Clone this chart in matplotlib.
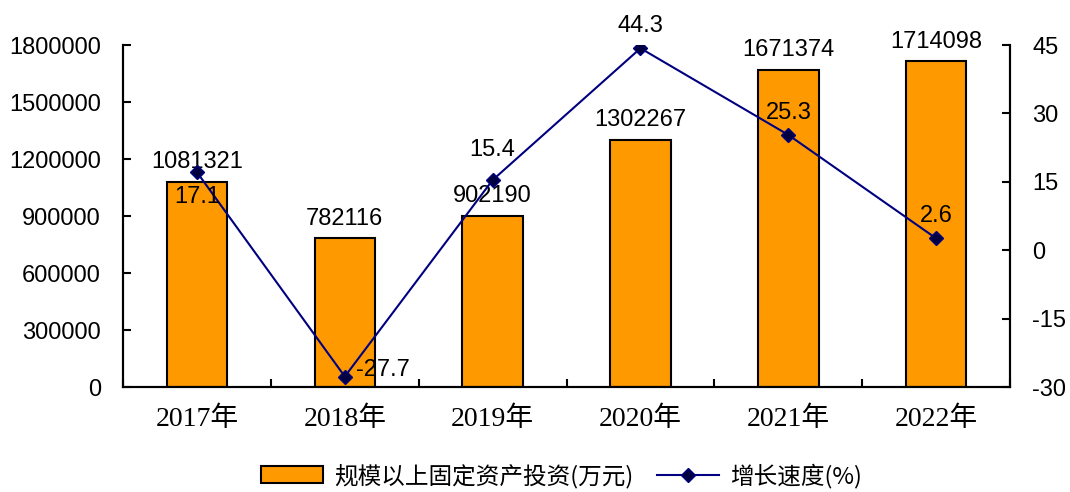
import matplotlib
matplotlib.use('Agg')
import matplotlib.pyplot as plt
import numpy as np

years = ['2017年', '2018年', '2019年', '2020年', '2021年', '2022年']
invest = [1081321, 782116, 902190, 1302267, 1671374, 1714098]
growth = [17.1, -27.7, 15.4, 44.3, 25.3, 2.6]
left_ticks = [0, 300000, 600000, 900000, 1200000, 1500000, 1800000]
right_ticks = [-30, -15, 0, 15, 30, 45]

num_font = ['Liberation Sans', 'Noto Sans CJK SC']
cat_font = ['Liberation Serif', 'Noto Sans CJK SC']

fig = plt.figure(figsize=(10.7, 4.92), dpi=100)
ax = fig.add_axes([0.115, 0.2134, 0.829, 0.695])
ax2 = ax.twinx()

x = np.arange(len(years))
bars = ax.bar(x, invest, width=0.41, color='#FF9900', edgecolor='black', linewidth=1.5,
              label='规模以上固定资产投资(万元)', zorder=2)
line, = ax2.plot(x, growth, color='#000080', linewidth=1.5, marker='D', markersize=7.5,
                 markerfacecolor='#000040', markeredgecolor='#000080',
                 label='增长速度(%)', zorder=3)

ax.set_xlim(-0.5, len(years) - 0.5)
ax.set_ylim(0, 1800000)
ax.set_yticks(left_ticks)
ax.set_yticklabels([str(t) for t in left_ticks], family=num_font, fontsize=17)
ax2.set_ylim(-30, 45)
ax2.set_yticks(right_ticks)
ax2.set_yticklabels([str(t) for t in right_ticks], family=num_font, fontsize=17)

# category boundary ticks on x axis
ax.set_xticks(np.arange(-0.5, len(years), 1.0), minor=False)
ax.set_xticklabels([])
ax.set_xticks(x, minor=True)
ax.set_xticklabels(years, minor=True, family=cat_font, fontsize=20)
ax.tick_params(axis='x', which='minor', length=0, pad=14)
ax.tick_params(axis='x', which='major', direction='in', length=6, width=1.5)

ax.tick_params(axis='y', direction='in', length=6, width=1.5, pad=16)
ax2.tick_params(axis='y', direction='in', length=6, width=1.5, pad=16)

for a in (ax, ax2):
    a.spines['top'].set_visible(False)
    for s in ('left', 'right', 'bottom'):
        a.spines[s].set_linewidth(1.5)

# bar value labels
for xi, v in zip(x, invest):
    ax.annotate(str(v), (xi, v), xytext=(0, 6), textcoords='offset points',
                ha='center', va='bottom', fontsize=17, family=num_font)

# growth labels
offsets = [(0, -18, 'center', 'center'), (8, 5, 'left', 'center'),
           (0, 14, 'center', 'bottom'), (0, 8, 'center', 'bottom'),
           (0, 8, 'center', 'bottom'), (0, 8, 'center', 'bottom')]
for xi, g, (dx, dy, ha, va) in zip(x, growth, offsets):
    ax2.annotate(str(g), (xi, g), xytext=(dx, dy), textcoords='offset points',
                 ha=ha, va=va, fontsize=17, family=num_font)

fig.legend([bars, line], ['规模以上固定资产投资(万元)', '增长速度(%)'],
           loc='lower center', bbox_to_anchor=(0.525, -0.035), ncol=2, frameon=False,
           prop={'family': ['Noto Sans CJK SC'], 'size': 17},
           handlelength=2.6, columnspacing=1.0, handletextpad=0.5)

fig.savefig('out.png', dpi=100)
